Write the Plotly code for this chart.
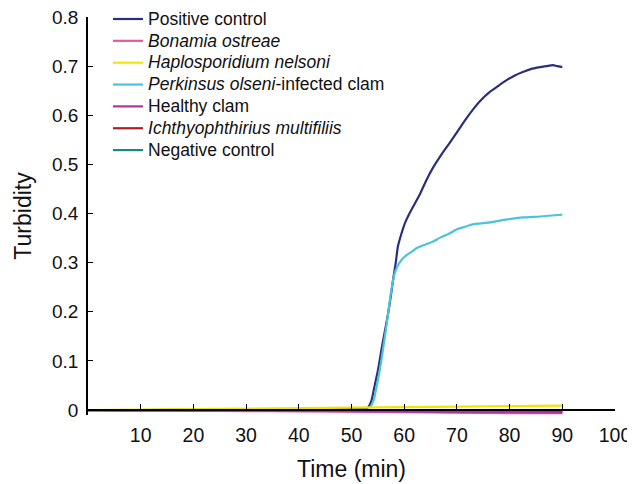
import plotly.graph_objects as go

# ---- data ----
names = ["Positive control", "<i>Bonamia ostreae</i>", "<i>Haplosporidium nelsoni</i>",
         "<i>Perkinsus olseni</i>-infected clam", "Healthy clam",
         "<i>Ichthyophthirius multifiliis</i>", "Negative control"]
colors = ["#2b2f78", "#e8589c", "#f3e500", "#4cc3de", "#b3339b", "#b11a22", "#17888a"]

pos_t = [0, 10, 20, 30, 40, 50, 52, 53, 53.8, 54.3, 55, 55.8, 56.5, 57, 57.5, 57.9, 58.4,
         58.8, 59.5, 60.2, 61, 62, 63, 64.3, 65.5, 66.8, 68.5, 70, 71.5, 73, 74.5, 76.3,
         78, 79.5, 81, 82.5, 84, 85.8, 87, 88.2, 89, 90]
pos_v = [0.0, 0.0, 0.001, 0.001, 0.001, 0.002, 0.002, 0.004, 0.02, 0.045, 0.08, 0.13,
         0.17, 0.2, 0.235, 0.266, 0.3, 0.333, 0.36, 0.382, 0.4, 0.42, 0.44, 0.47, 0.494,
         0.516, 0.542, 0.565, 0.589, 0.611, 0.63, 0.648, 0.661, 0.672, 0.681, 0.688,
         0.694, 0.698, 0.7, 0.702, 0.7, 0.698]

perk_t = [53.5, 54.2, 54.8, 55.5, 56.2, 57, 57.5, 58, 58.4, 59, 59.6, 60.5, 61.5, 62.4,
          64, 65.5, 66.8, 68.7, 70, 71.5, 73, 76.3, 79.5, 82.5, 85.8, 88, 90]
perk_v = [0.004, 0.02, 0.05, 0.09, 0.14, 0.2, 0.24, 0.27, 0.285, 0.298, 0.307, 0.316,
          0.323, 0.33, 0.337, 0.343, 0.351, 0.36, 0.368, 0.373, 0.378, 0.382, 0.388,
          0.392, 0.394, 0.396, 0.398]

low_t = [0, 10, 20, 30, 40, 50, 60, 70, 80, 90]
bon_v = [0.0, -0.001, -0.001, -0.002, -0.002, -0.003, -0.004, -0.005, -0.006, -0.006]
hap_v = [0.0, 0.001, 0.002, 0.003, 0.004, 0.005, 0.006, 0.007, 0.008, 0.009]
healthy_v = [0.0, 0.0, -0.001, -0.001, -0.002, -0.002, -0.003, -0.004, -0.004, -0.005]
ich_v = [0.0, 0.0, -0.001, -0.001, -0.001, -0.002, -0.002, -0.003, -0.003, -0.004]
neg_v = [0.0, 0.0, 0.0, -0.001, -0.001, -0.001, -0.001, -0.002, -0.002, -0.002]

x_ticks = [10, 20, 30, 40, 50, 60, 70, 80, 90, 100]
y_ticks = [0, 0.1, 0.2, 0.3, 0.4, 0.5, 0.6, 0.7, 0.8]
y_ticktext = ["0", "0.1", "0.2", "0.3", "0.4", "0.5", "0.6", "0.7", "0.8"]

series = [
    (pos_t, pos_v), (low_t, bon_v), (low_t, hap_v), (perk_t, perk_v),
    (low_t, healthy_v), (low_t, ich_v), (low_t, neg_v),
]
# drawing order (bottom to top), legend order kept by legendrank
draw_order = [6, 5, 1, 4, 0, 3, 2]

fig = go.Figure()
for i in draw_order:
    t, v = series[i]
    fig.add_trace(go.Scatter(
        x=t, y=v, mode="lines", legendrank=i + 1,
        name="<span style='font-size:17.5px'>" + names[i] + "</span>",
        line=dict(color=colors[i], width=2.2, shape="spline", smoothing=0.6),
    ))

FONT = "Liberation Sans, Arial, Helvetica, sans-serif"
ymin = -0.01
fig.update_layout(
    width=627, height=476,
    margin=dict(l=80, r=20, t=9, b=69, autoexpand=False),
    paper_bgcolor="white", plot_bgcolor="white",
    font=dict(family=FONT, color="#111111"),
    showlegend=True,
    legend=dict(
        x=0.038, y=1.035, xanchor="left", yanchor="top",
        font=dict(size=14.5, family=FONT, color="#111111"),
        bgcolor="rgba(0,0,0,0)", itemwidth=30, tracegroupgap=0,
    ),
    xaxis=dict(
        range=[0, 100], tickvals=x_ticks, ticks="inside", ticklen=5, tickwidth=1.2,
        tickcolor="black", showline=True, linecolor="black", linewidth=1.5,
        showgrid=False, zeroline=False, anchor="free", automargin=False,
        position=(0 - ymin) / (0.8 - ymin), ticklabeloverflow="allow",
        tickfont=dict(size=19.5, family=FONT, color="#111111"),
        ticklabelstandoff=8,
        title=dict(text="Time (min)", font=dict(size=23, family=FONT, color="#111111"),
                   standoff=15),
    ),
    yaxis=dict(
        range=[ymin, 0.8], tickvals=y_ticks, ticktext=y_ticktext, ticks="inside",
        ticklen=5, tickwidth=1.2, tickcolor="black", showline=True, linecolor="black",
        linewidth=1.5, showgrid=False, zeroline=False, automargin=False,
        ticklabeloverflow="allow",
        tickfont=dict(size=19, family=FONT, color="#111111"),
        ticklabelstandoff=4,
        title=dict(text="Turbidity", font=dict(size=23, family=FONT, color="#111111"),
                   standoff=14),
    ),
)

fig.write_html("out.html")
